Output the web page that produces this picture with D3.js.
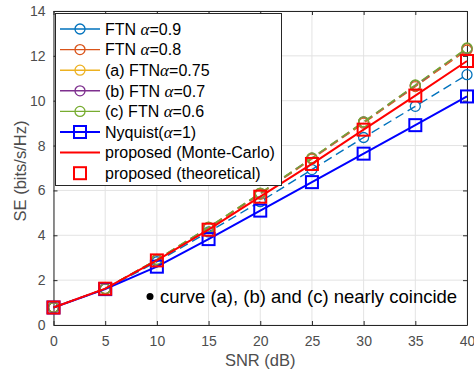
<!doctype html>
<html lang="en">
<head>
<meta charset="UTF-8">
<title>SE vs SNR</title>
<script src="https://cdn.jsdelivr.net/npm/d3@7"></script>
<style>
  body { margin: 0; background: #fff; }
  text { font-family: "Liberation Sans", Arial, sans-serif; }
</style>
</head>
<body>
<svg id="chart" width="474" height="374"></svg>
<script>
// data
const snr = [0, 5, 10, 15, 20, 25, 30, 35, 40];
const ftn09 = [0.78, 1.6, 2.82, 4.15, 5.5, 6.93, 8.36, 9.75, 11.16];
const ftn08 = [0.78, 1.62, 2.9, 4.32, 5.83, 7.4, 9.0, 10.63, 12.26];
const ftn075 = [0.78, 1.62, 2.91, 4.34, 5.86, 7.43, 9.04, 10.67, 12.31];
const ftn07 = [0.78, 1.62, 2.91, 4.35, 5.87, 7.44, 9.05, 10.68, 12.33];
const ftn06 = [0.78, 1.62, 2.92, 4.36, 5.88, 7.45, 9.06, 10.7, 12.35];
const nyquist = [0.78, 1.6, 2.6, 3.83, 5.1, 6.37, 7.64, 8.91, 10.19];
const proposedMC = [0.78, 1.62, 2.88, 4.25, 5.72, 7.18, 8.71, 10.23, 11.77];
const proposedTh = [0.78, 1.62, 2.88, 4.25, 5.72, 7.18, 8.71, 10.23, 11.77];
const xTicks = [0, 5, 10, 15, 20, 25, 30, 35, 40];
const yTicks = [0, 2, 4, 6, 8, 10, 12, 14];

const svg = d3.select("#chart");
const margin = { left: 53.5, right: 7, top: 11, bottom: 49 };
const W = 474, H = 374;
const x = d3.scaleLinear().domain([0, 40]).range([margin.left, W - margin.right]);
const y = d3.scaleLinear().domain([0, 14]).range([H - margin.bottom, margin.top]);

// grid
const grid = svg.append("g").attr("stroke", "#e3e3e3").attr("stroke-width", 1);
xTicks.forEach(t => grid.append("line").attr("x1", x(t)).attr("x2", x(t)).attr("y1", y(0)).attr("y2", y(14)));
yTicks.forEach(t => grid.append("line").attr("y1", y(t)).attr("y2", y(t)).attr("x1", x(0)).attr("x2", x(40)));

// axes, ticks pointing inward
const tickCol = "#262626";
svg.append("g").attr("transform", `translate(0,${y(0)})`)
  .call(d3.axisBottom(x).tickValues(xTicks).tickSizeInner(-4).tickSizeOuter(0).tickPadding(11));
svg.append("g").attr("transform", `translate(${x(0)},0)`)
  .call(d3.axisLeft(y).tickValues(yTicks).tickSizeInner(-4).tickSizeOuter(0).tickPadding(8));
svg.append("g").attr("transform", `translate(0,${y(14)})`)
  .call(d3.axisTop(x).tickValues(xTicks).tickSizeInner(-4).tickSizeOuter(0).tickFormat(""));
svg.append("g").attr("transform", `translate(${x(40)},0)`)
  .call(d3.axisRight(y).tickValues(yTicks).tickSizeInner(-4).tickSizeOuter(0).tickFormat(""));
svg.selectAll(".domain").attr("stroke", tickCol);
svg.selectAll(".tick line").attr("stroke", tickCol);
svg.selectAll(".tick text").attr("fill", "#4d4d4d").style("font-size", "14px")
  .style("font-family", "Liberation Sans, Arial, sans-serif");

const line = d3.line().x((d, i) => x(snr[i])).y(d => y(d));

const series = [
  { vals: ftn09, color: "#0072BD", dash: "9,5", w: 1.4, marker: "circle" },
  { vals: ftn08, color: "#D95319", dash: "9,5", w: 1.4, marker: "circle" },
  { vals: ftn075, color: "#EDB120", dash: "9,5", w: 1.4, marker: "circle" },
  { vals: ftn07, color: "#7E2F8E", dash: "9,5", w: 1.4, marker: "circle" },
  { vals: ftn06, color: "#77AC30", dash: "9,5", w: 1.4, marker: "circle" },
  { vals: nyquist, color: "#0000FF", dash: null, w: 2, marker: "square" },
  { vals: proposedMC, color: "#FF0000", dash: null, w: 2, marker: null },
  { vals: proposedTh, color: "#FF0000", dash: null, w: 0, marker: "square" }
];

const plot = svg.append("g");
function drawMarker(g, type, cx, cy, color) {
  if (type === "circle") {
    g.append("circle").attr("cx", cx).attr("cy", cy).attr("r", 5)
      .attr("fill", "none").attr("stroke", color).attr("stroke-width", 1.3);
  } else if (type === "square") {
    g.append("rect").attr("x", cx - 6).attr("y", cy - 6).attr("width", 12).attr("height", 12)
      .attr("fill", "none").attr("stroke", color).attr("stroke-width", 2);
  }
}
series.forEach(s => {
  if (s.w > 0) {
    plot.append("path").attr("d", line(s.vals)).attr("fill", "none")
      .attr("stroke", s.color).attr("stroke-width", s.w)
      .attr("stroke-dasharray", s.dash);
  }
  if (s.marker) s.vals.forEach((v, i) => drawMarker(plot, s.marker, x(snr[i]), y(v), s.color));
});

// legend
const legendItems = [
  ["FTN ", "α", "=0.9"],
  ["FTN ", "α", "=0.8"],
  ["(a) FTN", "α", "=0.75"],
  ["(b) FTN ", "α", "=0.7"],
  ["(c) FTN ", "α", "=0.6"],
  ["Nyquist(", "α", "=1)"],
  ["proposed (Monte-Carlo)", "", ""],
  ["proposed (theoretical)", "", ""]
];
const lg = svg.append("g");
lg.append("rect").attr("x", 55.5).attr("y", 13.5).attr("width", 226).attr("height", 172)
  .attr("fill", "#fff").attr("stroke", "#262626").attr("stroke-width", 1);
legendItems.forEach((it, i) => {
  const s = series[i];
  const ly = 29 + i * 20.6;
  if (s.w > 0) {
    lg.append("line").attr("x1", 60).attr("x2", 100).attr("y1", ly).attr("y2", ly)
      .attr("stroke", s.color).attr("stroke-width", s.w);
  }
  if (s.marker) drawMarker(lg, s.marker, 80, ly, s.color);
  const t = lg.append("text").attr("x", 105).attr("y", ly + 5.8).attr("fill", "#000")
    .style("font-size", "16px");
  t.append("tspan").text(it[0]);
  if (it[1]) t.append("tspan").text(it[1]).style("font-family", "Liberation Serif, serif")
    .style("font-style", "italic").style("font-size", "17px");
  if (it[2]) t.append("tspan").text(it[2]);
});

// annotation
svg.append("circle").attr("cx", 150).attr("cy", y(1.27)).attr("r", 3.5).attr("fill", "#000");
svg.append("text").attr("x", 160).attr("y", y(1.27) + 6.5).attr("fill", "#000")
  .style("font-size", "18.5px").text("curve (a), (b) and (c) nearly coincide");

// axis labels
svg.append("text").attr("x", (x(0) + x(40)) / 2).attr("y", 366).attr("text-anchor", "middle")
  .attr("fill", "#4d4d4d").style("font-size", "16.5px").text("SNR (dB)");
svg.append("text").attr("transform", `translate(26,${(y(0) + y(14)) / 2 + 3}) rotate(-90)`)
  .attr("text-anchor", "middle").attr("fill", "#4d4d4d").style("font-size", "16.5px")
  .text("SE (bits/s/Hz)");
</script>
</body>
</html>
